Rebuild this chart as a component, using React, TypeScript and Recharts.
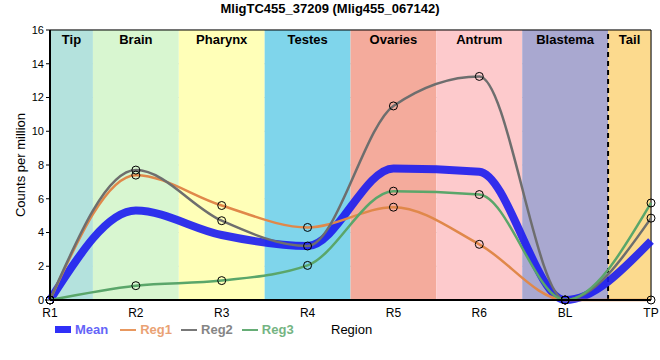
import React from 'react';
import {
  LineChart,
  Line,
  XAxis,
  YAxis,
  CartesianGrid,
  ReferenceArea,
  ReferenceLine,
} from 'recharts';

// values
const regions = ['R1', 'R2', 'R3', 'R4', 'R5', 'R6', 'BL', 'TP'];
const meanValues = [0, 5.3, 3.85, 3.2, 7.8, 7.6, 0, 3.5];
const reg1Values = [0, 7.4, 5.6, 4.3, 5.5, 3.3, 0, 0];
const reg2Values = [0, 7.7, 4.7, 3.2, 11.5, 13.25, 0, 4.85];
const reg3Values = [0, 0.85, 1.15, 2.05, 6.45, 6.25, 0, 5.75];
const yTicks = [0, 2, 4, 6, 8, 10, 12, 14, 16];

const bandNames = ['Tip', 'Brain', 'Pharynx', 'Testes', 'Ovaries', 'Antrum', 'Blastema', 'Tail'];
const bandStarts = [0, 0.5, 1.5, 2.5, 3.5, 4.5, 5.5, 6.5];
const bandEnds = [0.5, 1.5, 2.5, 3.5, 4.5, 5.5, 6.5, 7];
const bandColors = ['#b4e2dd', '#d8f6d0', '#ffffb8', '#7fd5eb', '#f4ab9c', '#fdcacc', '#a9a8d0', '#fcda8e'];

const data = regions.map((r, i) => ({
  x: i,
  mean: meanValues[i],
  reg1: reg1Values[i],
  reg2: reg2Values[i],
  reg3: reg3Values[i],
}));

const font = '"Liberation Sans", Arial, sans-serif';
const dot = { r: 4, fill: 'none', stroke: '#000', strokeWidth: 1 };

export default function App() {
  return (
    <div style={{ position: 'fixed', left: 0, top: 0, width: 660, height: 360, background: '#fff', fontFamily: font }}>
      <div style={{ position: 'absolute', top: 0, left: 0, width: 660, textAlign: 'center', fontSize: 13, fontWeight: 'bold', lineHeight: '17px' }}>
        MligTC455_37209 (Mlig455_067142)
      </div>
      <div
        style={{
          position: 'absolute',
          left: 20,
          top: 165,
          fontSize: 13,
          transform: 'translate(-50%, -50%) rotate(-90deg)',
          whiteSpace: 'nowrap',
        }}
      >
        Counts per million
      </div>
      <LineChart width={660} height={360} data={data} margin={{ top: 30, right: 9, bottom: 35, left: 0 }}>
        {bandNames.map((name, i) => (
          <ReferenceArea
            key={name}
            x1={bandStarts[i]}
            x2={bandEnds[i]}
            y1={0}
            y2={16}
            fill={bandColors[i]}
            fillOpacity={1}
            stroke="none"
            label={{ value: name, position: 'insideTop', offset: 5, fill: '#000', fontSize: 13, fontWeight: 'bold', fontFamily: font }}
          />
        ))}
        <CartesianGrid stroke="#c8c8c8" strokeWidth={1} />
        <ReferenceArea x1={0} x2={7} y1={0} y2={16} fill="none" stroke="#000" strokeWidth={1} />
        <ReferenceLine x={6.5} stroke="#000" strokeWidth={2} strokeDasharray="5 4" />
        <XAxis
          dataKey="x"
          type="number"
          domain={[0, 7]}
          ticks={regions.map((_, i) => i)}
          tickFormatter={(v: number) => regions[v]}
          interval={0}
          height={25}
          tickLine={false}
          axisLine={{ stroke: '#000', strokeWidth: 2 }}
          tick={{ fill: '#000', fontSize: 12, fontFamily: font }}
        />
        <YAxis
          type="number"
          domain={[0, 16]}
          ticks={yTicks}
          width={50}
          tickSize={4}
          tickLine={{ stroke: '#000' }}
          axisLine={{ stroke: '#000', strokeWidth: 2 }}
          tick={{ fill: '#000', fontSize: 11, fontFamily: font }}
        />
        <Line type="monotone" dataKey="mean" stroke="#1c1cf0" strokeOpacity={0.9} strokeWidth={8} dot={false} isAnimationActive={false} />
        <Line type="monotone" dataKey="reg1" stroke="#e0884a" strokeWidth={2.5} dot={dot} isAnimationActive={false} />
        <Line type="monotone" dataKey="reg2" stroke="#6e6e6e" strokeWidth={2.5} dot={dot} isAnimationActive={false} />
        <Line type="monotone" dataKey="reg3" stroke="#5aa66a" strokeWidth={2.5} dot={dot} isAnimationActive={false} />
      </LineChart>
      <div style={{ position: 'absolute', top: 322, left: 55, display: 'flex', alignItems: 'center', fontSize: 13, fontWeight: 'bold' }}>
        <span style={{ display: 'inline-block', width: 16, height: 7, background: '#3030f8', marginRight: 4 }} />
        <span style={{ color: '#6464f8', marginRight: 12 }}>Mean</span>
        <span style={{ display: 'inline-block', width: 16, height: 2, background: '#e89860', marginRight: 4 }} />
        <span style={{ color: '#eaa274', marginRight: 9 }}>Reg1</span>
        <span style={{ display: 'inline-block', width: 16, height: 2, background: '#787878', marginRight: 4 }} />
        <span style={{ color: '#858585', marginRight: 9 }}>Reg2</span>
        <span style={{ display: 'inline-block', width: 16, height: 2, background: '#66ad76', marginRight: 4 }} />
        <span style={{ color: '#74b482' }}>Reg3</span>
      </div>
      <div style={{ position: 'absolute', top: 322, left: 331, fontSize: 13 }}>Region</div>
    </div>
  );
}
